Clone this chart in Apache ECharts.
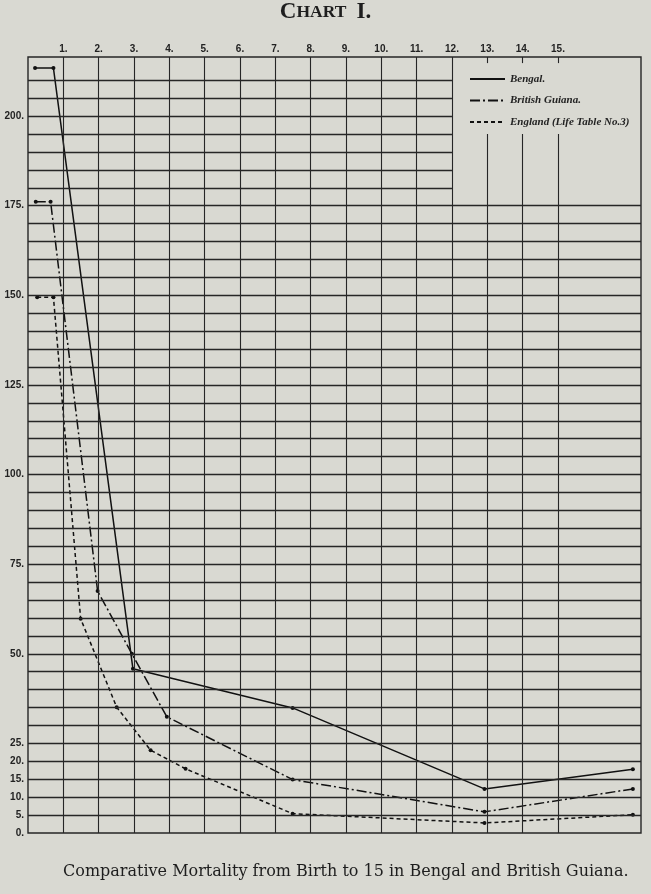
<!DOCTYPE html>
<html>
<head>
<meta charset="utf-8">
<script src="https://cdn.jsdelivr.net/npm/echarts@6/dist/echarts.min.js"></script>
<style>
  html, body { margin: 0; padding: 0; background: #d9d9d2; }
  #chart { width: 651px; height: 894px; }
</style>
</head>
<body>
<div id="chart"></div>
<script>
// ages (x) and deaths per 1000 (y)
const bengalX = [0.2, 0.72, 2.97, 7.49, 12.92, 17.12]
const bengalY = [213.4, 213.4, 45.8, 34.9, 12.3, 17.8]
const guianaX = [0.22, 0.64, 1.97, 2.94, 3.93, 7.49, 12.92, 17.12]
const guianaY = [176.1, 176.1, 67.5, 50, 32.4, 14.9, 5.9, 12.3]
const englandX = [0.26, 0.72, 1.49, 2.51, 3.47, 4.46, 7.49, 12.92, 17.12]
const englandY = [149.5, 149.5, 59.8, 35.1, 23.1, 17.9, 5.4, 2.8, 5.1]

const xLabels = [1, 2, 3, 4, 5, 6, 7, 8, 9, 10, 11, 12, 13, 14, 15]
const yLabels = [0, 5, 10, 15, 20, 25, 50, 75, 100, 125, 150, 175, 200]

const X_MAX = 17.35
const Y_MAX = 216.5
const LEGEND_X = 12     // legend box starts at this column
const LEGEND_Y = 175    // ... and above this row
const LEGEND_TOP = 195  // columns 13-15 stop here
const TICK = 1.7        // little top ticks inside the legend box

const ink = '#262626'

const pairs = (xs, ys) => xs.map((x, i) => [x, ys[i]])

// grid lines (the legend box cuts into the top right corner)
let gridLines = []
for (let v = 5; v <= 210; v += 5) {
  if (v <= LEGEND_Y) gridLines.push({ yAxis: v, lineStyle: { width: 1.3 } })
  else gridLines.push([{ coord: [0, v], lineStyle: { width: 1.3 } }, { coord: [LEGEND_X, v] }])
}
xLabels.forEach(v => {
  if (v <= LEGEND_X) gridLines.push({ xAxis: v })
  else {
    gridLines.push([{ coord: [v, 0] }, { coord: [v, LEGEND_TOP] }])
    gridLines.push([{ coord: [v, Y_MAX] }, { coord: [v, Y_MAX - TICK] }])
  }
})

const dataSeries = (name, xs, ys, dash) => ({
  name: name,
  type: 'line',
  data: pairs(xs, ys),
  symbol: 'circle',
  symbolSize: 4,
  itemStyle: { color: '#111' },
  lineStyle: { color: '#111', width: 1.5, type: dash },
  z: 3
})

const chart = echarts.init(document.getElementById('chart'))
chart.setOption({
  animation: false,
  backgroundColor: '#d9d9d2',
  title: [
    {
      text: '{a|C}{b|HART}  {a|I.}',
      left: 'center',
      top: 1,
      padding: 0,
      textStyle: {
        rich: {
          a: { fontFamily: 'Liberation Serif', fontSize: 23, color: '#1e1e1e' },
          b: { fontFamily: 'Liberation Serif', fontSize: 17.5, color: '#1e1e1e' }
        }
      }
    },
    {
      text: 'Comparative Mortality from Birth to 15 in Bengal and British Guiana.',
      left: 63,
      top: 864,
      padding: 0,
      textStyle: { fontFamily: 'DejaVu Serif', fontSize: 16, fontWeight: 'normal', color: '#1e1e1e' }
    }
  ],
  legend: {
    orient: 'vertical',
    left: 469,
    top: 72,
    padding: 0,
    itemWidth: 35,
    itemHeight: 8,
    itemGap: 7.5,
    itemStyle: { opacity: 0 },
    textStyle: { fontFamily: 'Liberation Serif', fontStyle: 'italic', fontWeight: 'bold', fontSize: 11, color: '#222', lineHeight: 14 },
    data: ['Bengal.', 'British Guiana.', 'England (Life Table No.3)']
  },
  grid: {
    left: 28, right: 10, top: 57, bottom: 61,
    show: true,
    borderColor: ink,
    borderWidth: 1.4,
    backgroundColor: 'transparent'
  },
  xAxis: {
    type: 'value',
    position: 'top',
    min: 0,
    max: X_MAX,
    interval: 1,
    axisLine: { show: false },
    axisTick: { show: false },
    splitLine: { show: false },
    axisLabel: {
      customValues: xLabels,
      margin: 3,
      formatter: v => v + '.',
      fontFamily: 'Liberation Sans',
      fontWeight: 'bold',
      fontSize: 10,
      color: '#222'
    }
  },
  yAxis: {
    type: 'value',
    min: 0,
    max: Y_MAX,
    interval: 5,
    axisLine: { show: false },
    axisTick: { show: false },
    splitLine: { show: false },
    axisLabel: {
      margin: 4,
      formatter: v => yLabels.indexOf(v) >= 0 ? v + '.' : '',
      fontFamily: 'Liberation Sans',
      fontWeight: 'bold',
      fontSize: 10,
      color: '#222'
    }
  },
  series: [
    {
      type: 'line',
      data: [],
      silent: true,
      z: 1,
      markLine: {
        silent: true,
        symbol: ['none', 'none'],
        label: { show: false },
        lineStyle: { color: ink, width: 1.1, type: 'solid' },
        data: gridLines
      }
    },
    dataSeries('Bengal.', bengalX, bengalY, 'solid'),
    dataSeries('British Guiana.', guianaX, guianaY, [10, 3, 2, 3]),
    dataSeries('England (Life Table No.3)', englandX, englandY, [4, 3])
  ]
})
</script>
</body>
</html>
